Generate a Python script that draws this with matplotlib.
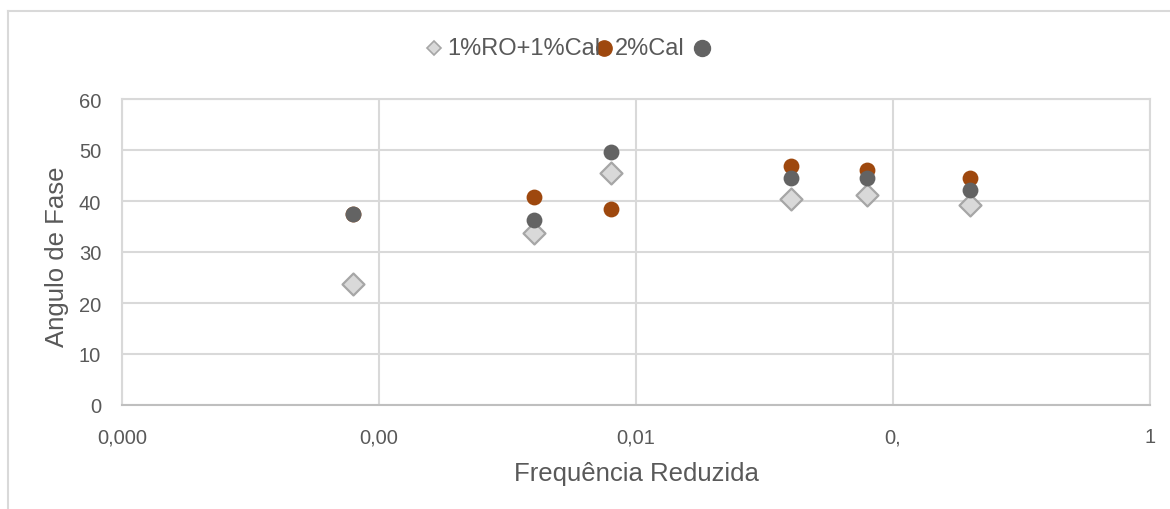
import matplotlib.pyplot as plt
from matplotlib.lines import Line2D

plt.rcParams['font.family'] = ['Liberation Sans', 'DejaVu Sans']

# reduced frequency and phase angle for each mixture
freq = [0.00079, 0.004, 0.008, 0.04, 0.079, 0.2]
ro_cal = [23.7, 33.7, 45.4, 40.4, 41.2, 39.2]
cal2 = [37.4, 40.7, 38.4, 46.9, 46.1, 44.5]
third = [37.4, 36.3, 49.7, 44.5, 44.5, 42.2]

xticks = [0.0001, 0.001, 0.01, 0.1, 1]
xtick_labels = ['0,000', '0,00', '0,01', '0,', '1']
yticks = [0, 10, 20, 30, 40, 50, 60]

text_color = '#595959'
grid_color = '#d9d9d9'
orange = '#9e480e'
dark = '#636363'

fig = plt.figure(figsize=(11.7, 5.1), dpi=100)
ax = fig.add_axes([122 / 1170, 104 / 510, 1028 / 1170, 306 / 510])

ax.scatter(freq, ro_cal, marker='D', s=125, c='#d9d9d9', edgecolors='#a6a6a6',
           linewidths=1.6, zorder=3)
ax.scatter(freq, cal2, marker='o', s=130, c=orange, linewidths=0, zorder=4)
ax.scatter(freq, third, marker='o', s=130, c=dark, linewidths=0, zorder=5)

ax.set_xscale('log')
ax.set_xlim(0.0001, 1)
ax.set_ylim(0, 60)
ax.set_xticks(xticks)
ax.set_xticklabels(xtick_labels)
ax.xaxis.set_minor_locator(plt.NullLocator())
ax.set_yticks(yticks)
ax.tick_params(axis='both', length=0, labelsize=14.5, colors=text_color)
ax.tick_params(axis='x', pad=16)
ax.tick_params(axis='y', pad=15)
ax.grid(True, color=grid_color, linewidth=1.5)
ax.set_axisbelow(True)
for side in ['left', 'top', 'right']:
    ax.spines[side].set_color(grid_color)
    ax.spines[side].set_linewidth(1.5)
ax.spines['bottom'].set_color('#bfbfbf')
ax.spines['bottom'].set_linewidth(1.5)

fig.text(57 / 1170, 253 / 510, 'Angulo de Fase', rotation=90, ha='center', va='center',
         fontsize=18.5, color=text_color)
fig.text(636 / 1170, 1 - 474 / 510, 'Frequência Reduzida', ha='center', va='center',
         fontsize=18.5, color=text_color)

# legend row along the top
ly = 1 - 49 / 510
fig.add_artist(Line2D([434 / 1170], [ly], marker='D', markersize=7.5, color='#d9d9d9',
                      markeredgecolor='#a6a6a6', markeredgewidth=1.2, linestyle='none'))
fig.text(447 / 1170, ly, '1%RO+1%Cal', ha='left', va='center', fontsize=17,
         color=text_color, zorder=5)
fig.add_artist(Line2D([604 / 1170], [ly], marker='o', markersize=11, color=orange,
                      linestyle='none', zorder=2))
fig.text(615 / 1170, ly, '2%Cal', ha='left', va='center', fontsize=17, color=text_color)
fig.add_artist(Line2D([702 / 1170], [ly], marker='o', markersize=11.5, color=dark,
                      linestyle='none'))

# chart border (left and top edges)
fig.add_artist(Line2D([7.5 / 1170, 7.5 / 1170], [0, 1 - 12 / 510], color=grid_color, linewidth=1.5))
fig.add_artist(Line2D([7.5 / 1170, 1], [1 - 12 / 510, 1 - 12 / 510], color=grid_color, linewidth=1.5))

fig.savefig('out.png', dpi=100)
